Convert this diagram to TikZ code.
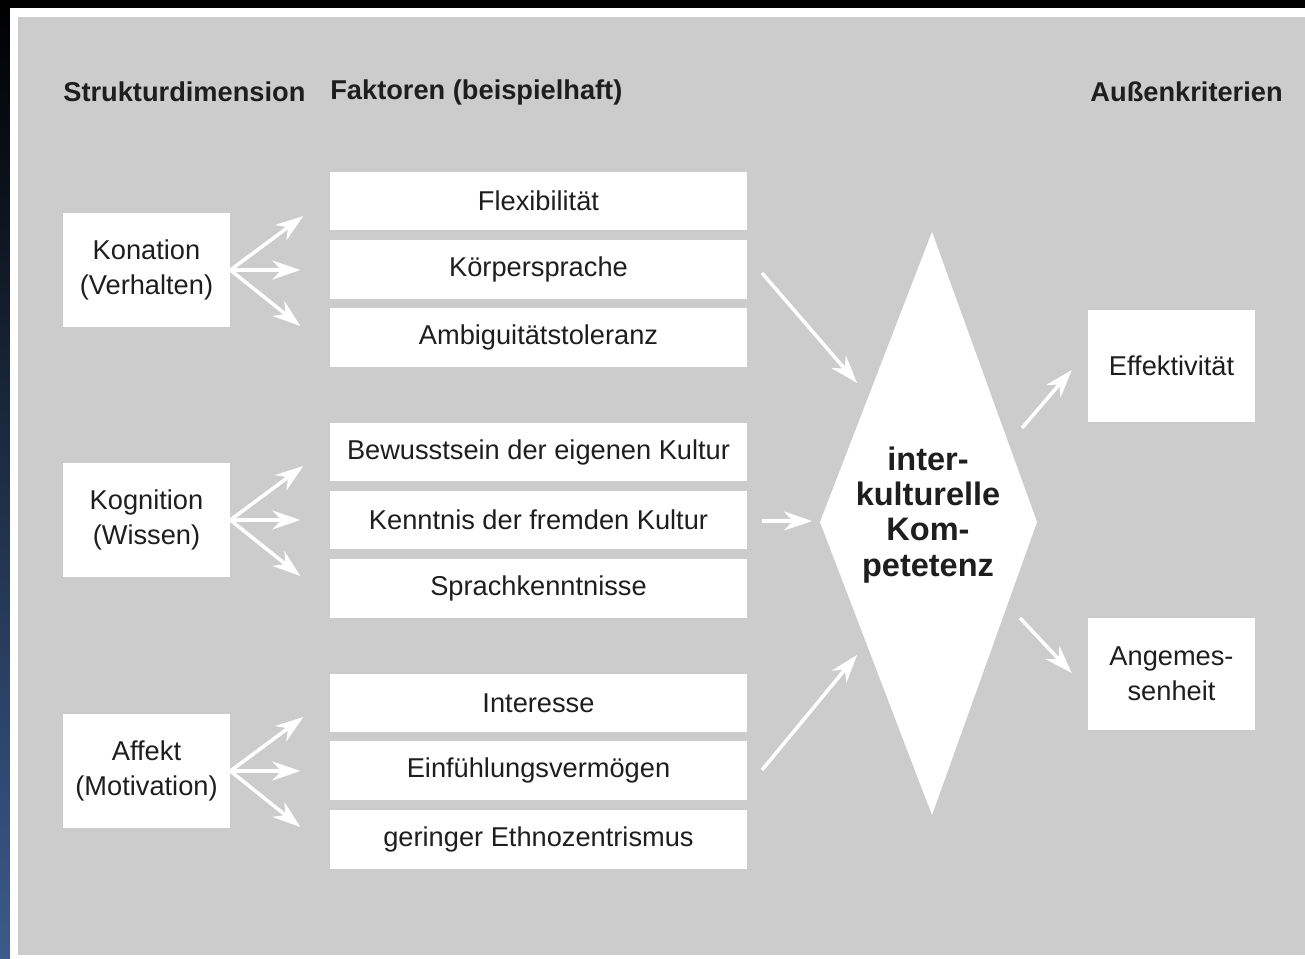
\documentclass[tikz,border=0pt]{standalone}
\usepackage{fontspec}
\setmainfont{Liberation Sans}
\usetikzlibrary{arrows.meta}
\definecolor{panel}{RGB}{204,204,204}
\definecolor{schrift}{RGB}{30,30,30}
\definecolor{rand}{RGB}{60,90,140}
\tikzset{
  kasten/.style={fill=white, inner sep=0pt, text=schrift, align=center,
    font=\fontsize{15.5}{20}\selectfont},
  dimbox/.style={kasten, minimum width=3.34cm, minimum height=2.28cm},
  faktor/.style={kasten, minimum width=8.34cm, minimum height=1.18cm},
  kritbox/.style={kasten, minimum width=3.34cm, minimum height=2.26cm},
  titel/.style={text=schrift, inner sep=0pt, font=\bfseries\fontsize{15.5}{18}\selectfont},
  pfeil/.style={draw=white, line width=2pt,
    -{Stealth[length=0.56cm, width=0.38cm, inset=0.18cm]}}
}
\begin{document}
\begin{tikzpicture}[x=0.02cm, y=-0.02cm]
    \useasboundingbox (0,0) rectangle (1305,959);
    % Rahmen und Hintergrund
    \fill[black] (0,0) rectangle (1305,959);
    \shade[top color=black, bottom color=rand] (0,0) rectangle (10,959);
    \fill[white] (10,8) rectangle (1305,959);
    \fill[panel] (18,17) rectangle (1305,955);

    % Spaltenkoepfe
    \node[titel, anchor=west] (kopf1) at (63,92) {Strukturdimension};
    \node[titel, anchor=west] (kopf2) at (330,92) {Faktoren (beispielhaft)};
    \node[titel, anchor=east] (kopf3) at (1283,92) {Außenkriterien};

    % Strukturdimensionen
    \node[dimbox] (kon) at (146.5,270) {Konation\\(Verhalten)};
    \node[dimbox] (kog) at (146.5,520) {Kognition\\(Wissen)};
    \node[dimbox] (aff) at (146.5,771) {Affekt\\(Motivation)};

    % Faktoren
    \node[faktor] (flex) at (538.5,201) {Flexibilität};
    \node[faktor] (koerp) at (538.5,269.5) {Körpersprache};
    \node[faktor] (ambi) at (538.5,337.5) {Ambiguitätstoleranz};
    \node[faktor] (bew) at (538.5,452) {Bewusstsein der eigenen Kultur};
    \node[faktor] (kennt) at (538.5,520) {Kenntnis der fremden Kultur};
    \node[faktor] (sprach) at (538.5,588.5) {Sprachkenntnisse};
    \node[faktor] (inter) at (538.5,703) {Interesse};
    \node[faktor] (einf) at (538.5,770.5) {Einfühlungsvermögen};
    \node[faktor] (ethno) at (538.5,839.5) {geringer Ethnozentrismus};

    % Raute
    \fill[white] (932,232) -- (1037,522) -- (932,815) -- (820,522) -- cycle;
    \node[text=schrift, align=center, inner sep=0pt,
      font=\bfseries\fontsize{18.5}{20}\selectfont] (komp) at (928,515)
      {inter-\\kulturelle\\Kom-\\petetenz};

    % Aussenkriterien
    \node[kritbox] (eff) at (1171.5,366) {Effektivität};
    \node[kritbox] (ang) at (1171.5,674) {Angemes-\\senheit};

    % Faecher links
    \foreach \n in {kon,kog,aff}{
      \path (\n.east) ++(73,-54) coordinate (\n-a)
            (\n.east) ++(70,0) coordinate (\n-b)
            (\n.east) ++(70,56) coordinate (\n-c);
      \draw[pfeil] (\n.east) -- (\n-a);
      \draw[pfeil] (\n.east) -- (\n-b);
      \draw[pfeil] (\n.east) -- (\n-c);
    }

    % Pfeile zur Raute
    \coordinate (g1) at (762,273);
    \coordinate (r1) at (857,383);
    \coordinate (g2) at (762,521);
    \coordinate (r2) at (812,521);
    \coordinate (g3) at (762,770);
    \coordinate (r3) at (857,655);
    \draw[pfeil] (g1) -- (r1);
    \draw[pfeil] (g2) -- (r2);
    \draw[pfeil] (g3) -- (r3);

    % Pfeile zu den Kriterien
    \coordinate (k1) at (1022,428);
    \coordinate (k2) at (1020,618);
    \path (eff.west) ++(-16,4) coordinate (e1)
          (ang.west) ++(-16,-1) coordinate (a1);
    \draw[pfeil] (k1) -- (e1);
    \draw[pfeil] (k2) -- (a1);
\end{tikzpicture}
\end{document}
